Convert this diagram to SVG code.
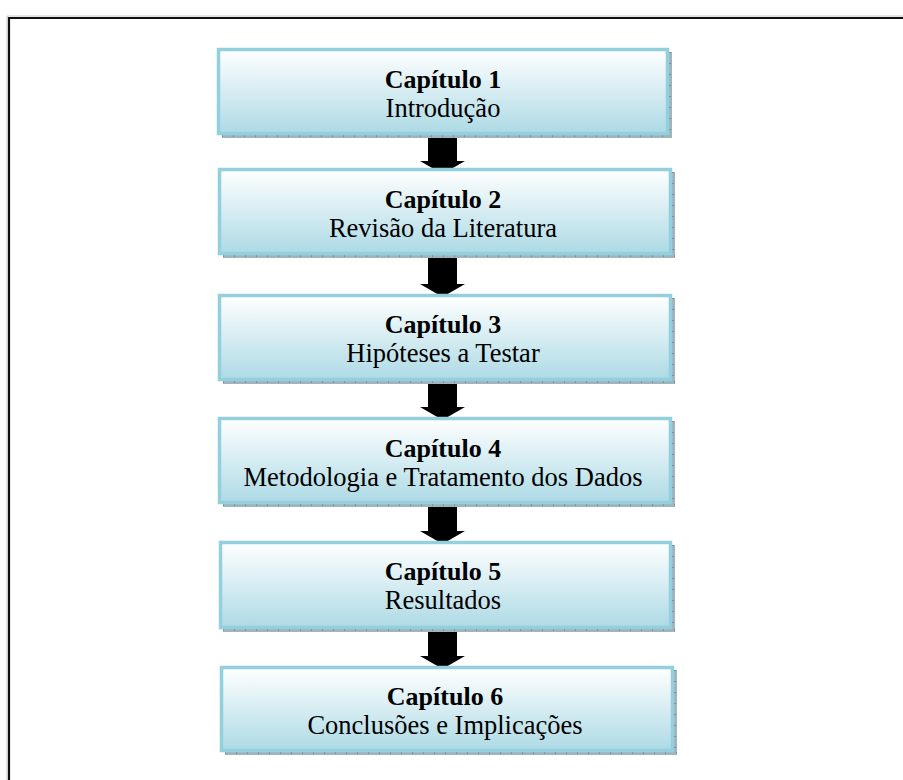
<svg xmlns="http://www.w3.org/2000/svg" width="903" height="780" viewBox="0 0 903 780">
  <defs>
    <linearGradient id="boxGrad" x1="0" y1="0" x2="0" y2="1">
      <stop offset="0" stop-color="#ffffff"/>
      <stop offset="1" stop-color="#addae5"/>
    </linearGradient>
    <style>
      .shadow { fill: #9fb4bc; }
      .tick { stroke: #4d6f7c; stroke-width: 1.2; stroke-dasharray: 1 10; fill: none; }
      .box { fill: url(#boxGrad); stroke: #93cfdd; stroke-width: 3.5; }
      .t1 { font-family: "Liberation Serif", "Times New Roman", serif; font-size: 26px; font-weight: bold; fill: #000; text-anchor: middle; }
      .t2 { font-family: "Liberation Serif", "Times New Roman", serif; font-size: 26.5px; fill: #000; text-anchor: middle; }
      .arrow { fill: #000; }
    </style>
  </defs>
  <rect width="903" height="780" fill="#ffffff"/>
  <!-- frame -->
  <path d="M7,795 V16 H910" fill="none" stroke="#cccccc" stroke-width="1"/>
  <path d="M9,795 V18 H910" fill="none" stroke="#111111" stroke-width="2.2"/>

  <g id="connectors">
    <polygon class="arrow" points="428,133 457,133 457,161 465,161 442.5,174 420,161 428,161"/>
    <polygon class="arrow" points="428,254 457,254 457,284 465,284 442.5,297 420,284 428,284"/>
    <polygon class="arrow" points="428,380 457,380 457,407 465,407 442.5,420 420,407 428,407"/>
    <polygon class="arrow" points="428,503 457,503 457,531 465,531 442.5,544 420,531 428,531"/>
    <polygon class="arrow" points="428,628 457,628 457,656 465,656 442.5,669 420,656 428,656"/>
  </g>

  <g id="node1">
    <path class="shadow" d="M668,52 H672 V138 H222 V134 H668 Z"/>
    <path class="tick" d="M222,136 H672 M670,52 V138"/>
    <rect class="box" x="218.5" y="49.5" width="449" height="84"/>
    <text class="t1" x="443" y="88">Capítulo 1</text>
    <text class="t2" x="443" y="117">Introdução</text>
  </g>

  <g id="node2">
    <path class="shadow" d="M671,172 H675 V258 H223 V254 H671 Z"/>
    <path class="tick" d="M223,256 H675 M673,172 V258"/>
    <rect class="box" x="219.5" y="169.5" width="451" height="84"/>
    <text class="t1" x="443" y="208">Capítulo 2</text>
    <text class="t2" x="443" y="237">Revisão da Literatura</text>
  </g>

  <g id="node3">
    <path class="shadow" d="M671,298 H675 V384 H223 V380 H671 Z"/>
    <path class="tick" d="M223,382 H675 M673,298 V384"/>
    <rect class="box" x="219.5" y="295.5" width="451" height="84"/>
    <text class="t1" x="443" y="333">Capítulo 3</text>
    <text class="t2" x="443" y="362">Hipóteses a Testar</text>
  </g>

  <g id="node4">
    <path class="shadow" d="M671,421 H675 V507 H223 V503 H671 Z"/>
    <path class="tick" d="M223,505 H675 M673,421 V507"/>
    <rect class="box" x="219.5" y="418.5" width="451" height="84"/>
    <text class="t1" x="443" y="457">Capítulo 4</text>
    <text class="t2" x="443" y="486">Metodologia e Tratamento dos Dados</text>
  </g>

  <g id="node5">
    <path class="shadow" d="M671,545 H675 V632 H223 V628 H671 Z"/>
    <path class="tick" d="M223,630 H675 M673,545 V632"/>
    <rect class="box" x="220.5" y="542.5" width="450" height="85"/>
    <text class="t1" x="443" y="580">Capítulo 5</text>
    <text class="t2" x="443" y="609">Resultados</text>
  </g>

  <g id="node6">
    <path class="shadow" d="M673,670 H677 V755 H225 V751 H673 Z"/>
    <path class="tick" d="M225,753 H677 M675,670 V755"/>
    <rect class="box" x="221.5" y="667.5" width="451" height="83"/>
    <text class="t1" x="445" y="705">Capítulo 6</text>
    <text class="t2" x="445" y="734">Conclusões e Implicações</text>
  </g>
</svg>
